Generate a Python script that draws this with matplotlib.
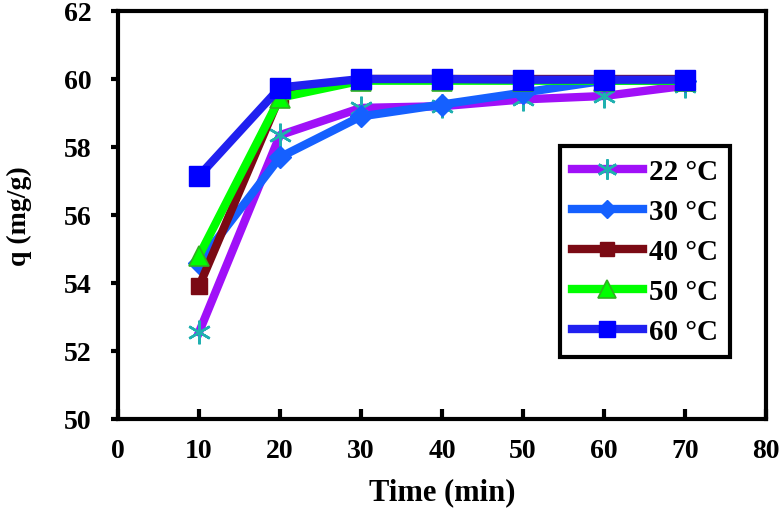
import matplotlib
matplotlib.use("Agg")
import matplotlib.pyplot as plt

time = [10, 20, 30, 40, 50, 60, 70]
q_22 = [52.55, 58.35, 59.15, 59.2, 59.4, 59.5, 59.8]
q_30 = [54.6, 57.7, 58.9, 59.25, 59.6, 59.95, 59.95]
q_40 = [53.9, 59.5, 60.0, 60.0, 60.0, 60.0, 60.0]
q_50 = [54.8, 59.45, 59.95, 59.95, 59.95, 59.95, 59.95]
q_60 = [57.15, 59.75, 60.0, 60.0, 59.98, 59.98, 59.98]
labels = ['22 °C', '30 °C', '40 °C', '50 °C', '60 °C']

plt.rcParams['font.family'] = ['Liberation Serif', 'DejaVu Serif']
plt.rcParams['font.weight'] = 'bold'

fig = plt.figure(figsize=(7.79, 5.10), dpi=100)
ax = fig.add_axes([118/779, 90/510, 648/779, 408/510])

ax.plot(time, q_22, color='#A010F8', lw=6, marker=(6, 2, 0), ms=17,
        mec='#20B0B0', mfc='#20B0B0', mew=1.8, label=labels[0])
ax.plot(time, q_30, color='#1560FF', lw=6, marker='D', ms=11,
        mec='#1560FF', mfc='#1560FF', label=labels[1])
ax.plot(time, q_40, color='#7B0A14', lw=6, marker='s', ms=12,
        mec='#7B0A14', mfc='#7B0A14', label=labels[2])
ax.plot(time, q_50, color='#00FF00', lw=6, marker='^', ms=15,
        mec='#30B020', mfc='#00FF00', mew=1.2, label=labels[3])
ax.plot(time, q_60, color='#2020F0', lw=6, marker='s', ms=14,
        mec='#0000FF', mfc='#0000FF', label=labels[4])

ax.set_xlim(0, 80)
ax.set_ylim(50, 62)
ax.set_xticks(range(0, 81, 10))
ax.set_yticks(range(50, 63, 2))
ax.tick_params(axis='x', direction='in', length=7, width=3, labelsize=20, pad=14)
ax.tick_params(axis='y', direction='out', length=5, width=3, labelsize=20, pad=14)
for s in ax.spines.values():
    s.set_linewidth(3)
ax.set_xlabel('Time (min)', fontsize=22, fontweight='bold', labelpad=10)
ax.set_ylabel('q (mg/g)', fontsize=20, fontweight='bold', va='center')
ax.yaxis.set_label_coords(-0.152, 0.5)

leg = ax.legend(loc='upper left', bbox_to_anchor=(0.682, 0.669), borderaxespad=0,
                frameon=True, fancybox=False, edgecolor='black', framealpha=1,
                handlelength=2.45, handletextpad=0.2, labelspacing=0.45,
                borderpad=0.4, markerscale=0.85,
                prop={'weight': 'bold', 'size': 21})
leg.get_frame().set_linewidth(3)

fig.savefig('out.png', dpi=100)
